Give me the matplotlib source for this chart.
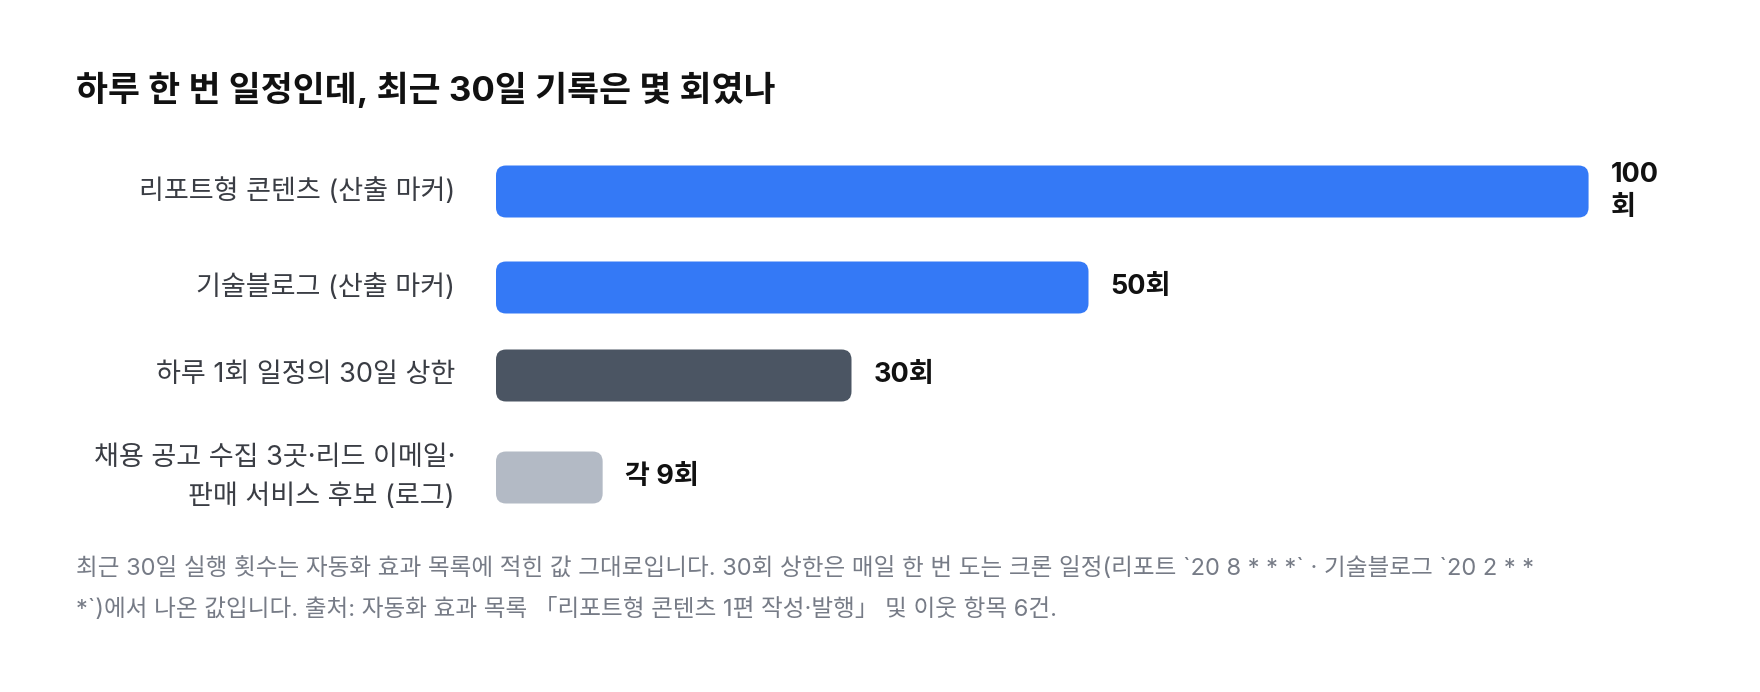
import numpy as np
import matplotlib
matplotlib.use("Agg")
import matplotlib.pyplot as plt
from matplotlib.patches import FancyBboxPatch

plt.rcParams['font.family'] = ['Inter', 'Noto Sans CJK KR', 'DejaVu Sans']

# ==================== 데이터 ====================
categories = [
    "리포트형 콘텐츠 (산출 마커)",
    "기술블로그 (산출 마커)",
    "하루 1회 일정의 30일 상한",
    "채용 공고 수집 3곳·리드 이메일·\n판매 서비스 후보 (로그)",
]
values = [100, 50, 30, 9]
value_labels = ["100회", "50회", "30회", "각 9회"]
bar_colors = ["#3479F6", "#3479F6", "#4B5563", "#B3BAC5"]

title = "하루 한 번 일정인데, 최근 30일 기록은 몇 회였나"
footnote = ("최근 30일 실행 횟수는 자동화 효과 목록에 적힌 값 그대로입니다. 30회 상한은 매일 한 번 도는 "
            "크론 일정(리포트 `20 8 * * *` · 기술블로그 `20 2 * *\n"
            "*`)에서 나온 값입니다. 출처: 자동화 효과 목록 「리포트형 콘텐츠 1편 작성·발행」 및 이웃 항목 6건.")

# ==================== 레이아웃 (픽셀) ====================
W, H = 1760, 692
X_MAX = 100
LABEL_ROOM = 7.8          # 막대 끝 라벨 자리 (데이터 단위)
TRACK_L, TRACK_R = 496, 1681
BAR_H, GAP = 52, 36
VAL_LINE, CAT_LINE = 34, 40
TOP = 157.5

fig = plt.figure(figsize=(W / 100, H / 100), dpi=100)
fig.patch.set_facecolor("white")

# 텍스트용 전체 축 (픽셀 좌표)
ov = fig.add_axes([0, 0, 1, 1])
ov.set_xlim(0, W)
ov.set_ylim(H, 0)
ov.axis("off")

# 막대용 축: x는 값, y는 픽셀
ax = fig.add_axes([TRACK_L / W, 0, (TRACK_R - TRACK_L) / W, 1])
ax.set_xlim(0, X_MAX)
ax.set_ylim(H, 0)
ax.axis("off")

px_per_unit = (TRACK_R - TRACK_L) / X_MAX
radius_px = 10

y = TOP
for cat, v, lab, col in zip(categories, values, value_labels, bar_colors):
    drawn = min(v, X_MAX - LABEL_ROOM)
    if drawn < v:
        lab = lab.replace("회", "\n회")
    val_lines = lab.count("\n") + 1
    cat_lines = cat.count("\n") + 1
    row_h = max(BAR_H, val_lines * VAL_LINE, cat_lines * CAT_LINE)
    yc = y + row_h / 2

    r = radius_px / px_per_unit
    bar = FancyBboxPatch((0, yc - BAR_H / 2), drawn, BAR_H,
                         boxstyle=f"round,pad=0,rounding_size={r}",
                         mutation_aspect=px_per_unit,
                         facecolor=col, edgecolor="none")
    ax.add_patch(bar)

    ax.annotate(lab, xy=(drawn, yc), xytext=(15.8, 0), textcoords="offset points",
                ha="left", va="center", fontsize=19.5, fontweight="bold",
                color="#111111", linespacing=1.35, annotation_clip=False)

    ov.text(455, yc, cat, ha="right", va="center", multialignment="right",
            fontsize=19.5, color="#3a3d44", linespacing=1.6)

    y += row_h + GAP

ov.text(76, 90, title, ha="left", va="center", fontsize=25, fontweight="bold",
        color="#111111")

ov.text(76, 589, footnote, ha="left", va="center", fontsize=17,
        color="#767b86", linespacing=2.0)

fig.savefig("out.png", dpi=100, facecolor="white")
